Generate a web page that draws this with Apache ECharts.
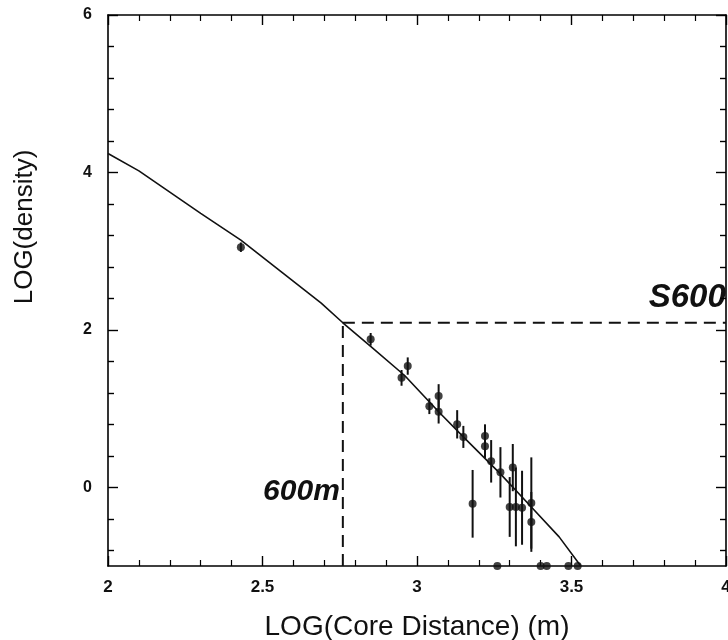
<!DOCTYPE html>
<html>
<head>
<meta charset="utf-8">
<script src="https://cdn.jsdelivr.net/npm/echarts@6/dist/echarts.min.js"></script>
<style>
  html, body { margin: 0; padding: 0; background: #fff; }
  #chart { width: 728px; height: 640px; }
</style>
</head>
<body>
<div id="chart"></div>
<script>
// Axis ticks
const xTicks = [2, 2.5, 3, 3.5, 4];
const yMajorTicks = [0, 2, 4, 6];
const yMinorTicks = [-0.8, -0.4, 0.4, 0.8, 1.2, 1.6, 2.4, 2.8, 3.2, 3.6, 4.4, 4.8, 5.2, 5.6];

// Detector densities: log10(core distance / m), log10(density), 1-sigma error
const logDist    = [2.43, 2.85, 2.95, 2.97, 3.04, 3.07, 3.07, 3.13, 3.15, 3.22, 3.22, 3.24, 3.27, 3.18, 3.31, 3.30, 3.32, 3.34, 3.37, 3.37];
const logDensity = [3.05, 1.88, 1.39, 1.54, 1.03, 1.16, 0.96, 0.80, 0.64, 0.65, 0.52, 0.33, 0.19, -0.21, 0.25, -0.25, -0.25, -0.26, -0.20, -0.44];
const densityErr = [0.06, 0.08, 0.10, 0.11, 0.10, 0.15, 0.15, 0.18, 0.14, 0.15, 0.15, 0.27, 0.32, 0.43, 0.30, 0.38, 0.50, 0.47, 0.58, 0.38];

// Detectors with no signal, drawn on the lower edge
const zeroDist = [3.26, 3.40, 3.42, 3.49, 3.52];

// Fitted lateral distribution function
const fitDist    = [2.00, 2.10, 2.30, 2.43, 2.56, 2.69, 2.76, 2.85, 2.96, 3.07, 3.15, 3.27, 3.37, 3.46, 3.53];
const fitDensity = [4.24, 4.02, 3.48, 3.14, 2.74, 2.34, 2.09, 1.79, 1.42, 0.96, 0.64, 0.17, -0.25, -0.63, -1.00];

// Reference distance (600 m) and the interpolated density there
const log600 = 2.76;
const s600 = 2.09;

const yMin = -1, yMax = 6;
const FONT = '"Liberation Sans", Arial, Helvetica, sans-serif';

const chart = echarts.init(document.getElementById('chart'), null, { renderer: 'canvas' });

const axisLine = { show: true, onZero: false, lineStyle: { color: '#000', width: 1.6 } };

function xAxisDef(pos, labels) {
  return {
    type: 'value', position: pos, min: xTicks[0], max: xTicks[xTicks.length - 1],
    interval: xTicks[1] - xTicks[0],
    axisLine: axisLine,
    axisTick: { show: true, inside: true, length: 10, lineStyle: { color: '#000', width: 1.4 } },
    minorTick: { show: true, splitNumber: 5, length: 6, lineStyle: { color: '#000', width: 1.2 } },
    splitLine: { show: false }, minorSplitLine: { show: false },
    axisLabel: {
      show: labels, margin: 13, color: '#111',
      fontFamily: FONT, fontSize: 17, fontWeight: 'bold',
      formatter: v => String(v)
    },
    name: labels ? 'LOG(Core Distance) (m)' : '',
    nameLocation: 'middle', nameGap: 47,
    nameTextStyle: { fontFamily: FONT, fontSize: 28, color: '#111' }
  };
}

function yAxisDef(pos, ticks, len, labels, showLine) {
  return {
    type: 'value', position: pos, min: yMin, max: yMax,
    axisLine: showLine ? axisLine : { show: false, onZero: false },
    axisTick: { show: true, inside: true, length: len, customValues: ticks,
                lineStyle: { color: '#000', width: 1.4 } },
    splitLine: { show: false },
    axisLabel: {
      show: labels, customValues: ticks, margin: 16, color: '#111',
      fontFamily: FONT, fontSize: 16, fontWeight: 'bold',
      formatter: v => String(v)
    }
  };
}

const errData = logDist.map((x, i) => [x, logDensity[i] - densityErr[i], logDensity[i] + densityErr[i]]);

chart.setOption({
  animation: false,
  backgroundColor: '#fff',
  grid: { left: 108, right: 2, top: 15, bottom: 74, containLabel: false, outerBoundsMode: 'none' },
  xAxis: [xAxisDef('bottom', true), xAxisDef('top', false)],
  yAxis: [
    yAxisDef('left', yMajorTicks, 10, true, true),
    yAxisDef('left', yMinorTicks, 6, false, false),
    yAxisDef('right', yMajorTicks, 10, false, true),
    yAxisDef('right', yMinorTicks, 6, false, false)
  ],
  series: [
    {
      // fitted curve
      type: 'line', xAxisIndex: 0, yAxisIndex: 0,
      data: fitDist.map((x, i) => [x, fitDensity[i]]),
      showSymbol: false, smooth: false,
      lineStyle: { color: '#111', width: 1.6 },
      z: 3
    },
    {
      // 600 m guide
      type: 'line', xAxisIndex: 0, yAxisIndex: 0,
      data: [[log600, yMin], [log600, s600]],
      showSymbol: false,
      lineStyle: { color: '#111', width: 2, type: [12, 7] },
      z: 2
    },
    {
      // S600 guide
      type: 'line', xAxisIndex: 0, yAxisIndex: 0,
      data: [[log600, s600], [xTicks[xTicks.length - 1], s600]],
      showSymbol: false,
      lineStyle: { color: '#111', width: 2, type: [12, 7] },
      z: 2
    },
    {
      // error bars
      type: 'custom', xAxisIndex: 0, yAxisIndex: 0,
      data: errData,
      encode: { x: 0, y: [1, 2] },
      renderItem(params, api) {
        const lo = api.coord([api.value(0), api.value(1)]);
        const hi = api.coord([api.value(0), api.value(2)]);
        return {
          type: 'line',
          shape: { x1: lo[0], y1: lo[1], x2: hi[0], y2: hi[1] },
          style: { stroke: '#111', lineWidth: 2 }
        };
      },
      z: 4
    },
    {
      // measured densities
      type: 'scatter', xAxisIndex: 0, yAxisIndex: 0,
      data: logDist.map((x, i) => [x, logDensity[i]]),
      symbol: 'circle', symbolSize: 8,
      itemStyle: { color: '#111' },
      z: 5
    },
    {
      // zero-signal detectors
      type: 'scatter', xAxisIndex: 0, yAxisIndex: 0,
      data: zeroDist.map(x => [x, yMin]),
      symbol: 'circle', symbolSize: 8, clip: false,
      itemStyle: { color: '#111' },
      z: 5
    }
  ]
});

// Annotations placed through the axis scales
const p600 = chart.convertToPixel({ gridIndex: 0 }, [log600, -0.06]);
const pS600 = chart.convertToPixel({ gridIndex: 0 }, [3.75, 2.40]);

chart.setOption({
  graphic: [
    {
      type: 'text', x: 25, y: 227, rotation: Math.PI / 2,
      style: {
        text: 'LOG(density)', x: 0, y: 0, align: 'center', verticalAlign: 'middle',
        font: '26px ' + FONT, fill: '#111'
      }
    },
    {
      type: 'text', x: p600[0] - 3, y: p600[1],
      style: {
        text: '600m', align: 'right', verticalAlign: 'middle',
        font: 'italic bold 30px ' + FONT, fill: '#111'
      }
    },
    {
      type: 'text', x: pS600[0], y: pS600[1],
      style: {
        text: 'S600', align: 'left', verticalAlign: 'middle',
        font: 'italic bold 33px ' + FONT, fill: '#111'
      }
    }
  ]
});
</script>
</body>
</html>
